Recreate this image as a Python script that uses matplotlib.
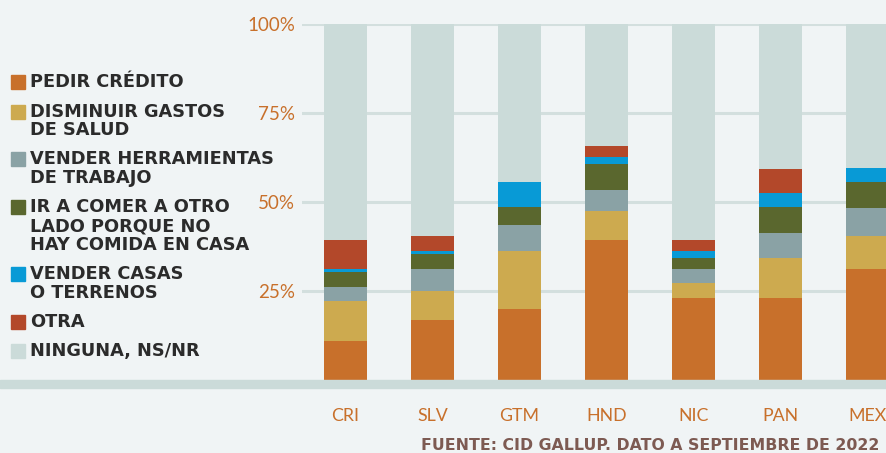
import matplotlib.pyplot as plt
from matplotlib.patches import Rectangle
import numpy as np

# Datos (porcentaje de hogares por país)
paises = ['CRI', 'SLV', 'GTM', 'HND', 'NIC', 'PAN', 'MEX']
pedir_credito = [11.0, 16.9, 19.9, 39.3, 23.0, 23.0, 31.2]
disminuir_salud = [11.2, 8.1, 16.3, 8.1, 4.2, 11.2, 9.3]
vender_herramientas = [3.9, 6.2, 7.3, 5.9, 3.9, 7.0, 7.9]
comer_otro_lado = [4.2, 4.2, 5.1, 7.3, 3.1, 7.3, 7.3]
vender_casas = [0.8, 0.8, 7.0, 2.0, 2.0, 3.9, 3.9]
otra = [8.1, 4.2, 0.0, 3.1, 3.1, 7.0, 0.0]
ninguna = [60.8, 59.6, 44.4, 34.3, 60.7, 40.6, 40.4]

etiquetas = [
    ['PEDIR CRÉDITO'],
    ['DISMINUIR GASTOS', 'DE SALUD'],
    ['VENDER HERRAMIENTAS', 'DE TRABAJO'],
    ['IR A COMER A OTRO', 'LADO PORQUE NO', 'HAY COMIDA EN CASA'],
    ['VENDER CASAS', 'O TERRENOS'],
    ['OTRA'],
    ['NINGUNA, NS/NR'],
]
series = [pedir_credito, disminuir_salud, vender_herramientas,
          comer_otro_lado, vender_casas, otra, ninguna]
colores = ['#c8702b', '#cdaa4f', '#8aa2a5', '#5a672e', '#089ad6', '#b3482a', '#cbdbd9']

fondo = '#f0f4f5'
naranja = '#c8702b'

W, H = 886, 453
fig = plt.figure(figsize=(W / 100, H / 100), dpi=100, facecolor=fondo)

# Eje: 0% en y=380 px, 100% en y=24 px; desde x=302 px hasta el borde
ax = fig.add_axes([302 / W, (H - 380) / H, (W - 302) / W, 356 / H])
ax.set_facecolor(fondo)

x = np.arange(len(paises))
base = np.zeros(len(paises))
for vals, col in zip(series, colores):
    ax.bar(x, vals, bottom=base, width=0.494, color=col, zorder=3, linewidth=0)
    base = base + np.array(vals)

ax.set_xlim(-0.5, (W - 345.5) / 87)
ax.set_ylim(0, 100)

# Líneas de cuadrícula
for v in [25, 50, 75, 100]:
    ax.axhline(v, color='#d3dfde', lw=2.2, zorder=1)

for s in ax.spines.values():
    s.set_visible(False)

ax.set_yticks([25, 50, 75, 100])
ax.set_yticklabels(['25%', '50%', '75%', '100%'])
ax.set_xticks(x)
ax.set_xticklabels(paises)
ax.tick_params(axis='y', length=0, pad=5, labelcolor=naranja, labelsize=13.5)
ax.tick_params(axis='x', length=0, pad=20, labelcolor=naranja, labelsize=12.8)
for t in ax.get_xticklabels() + ax.get_yticklabels():
    t.set_family(['Lato', 'DejaVu Sans'])

# Banda base gris
fig.add_artist(Rectangle((0, (H - 388) / H), 1, 8 / H, transform=fig.transFigure,
                         color='#cbdbd9', zorder=5))

# Leyenda manual
y_lineas = [[82], [112, 130], [159, 178], [207, 226, 245], [274, 293], [322], [351]]
for lineas, ys, col in zip(etiquetas, y_lineas, colores):
    fig.add_artist(Rectangle((11 / W, (H - ys[0] - 7) / H), 14 / W, 14 / H,
                             transform=fig.transFigure, color=col))
    for txt, yy in zip(lineas, ys):
        fig.text(30 / W, (H - yy) / H, txt, ha='left', va='center',
                 fontsize=12.8, fontweight='bold', color='#2b2b2b')

# Fuente
fig.text(421 / W, (H - 446) / H, 'FUENTE: CID GALLUP. DATO A SEPTIEMBRE DE 2022',
         ha='left', va='center', fontsize=11.3, fontweight='bold', color='#7d5a52')

plt.savefig('out.png', dpi=100, facecolor=fondo)
